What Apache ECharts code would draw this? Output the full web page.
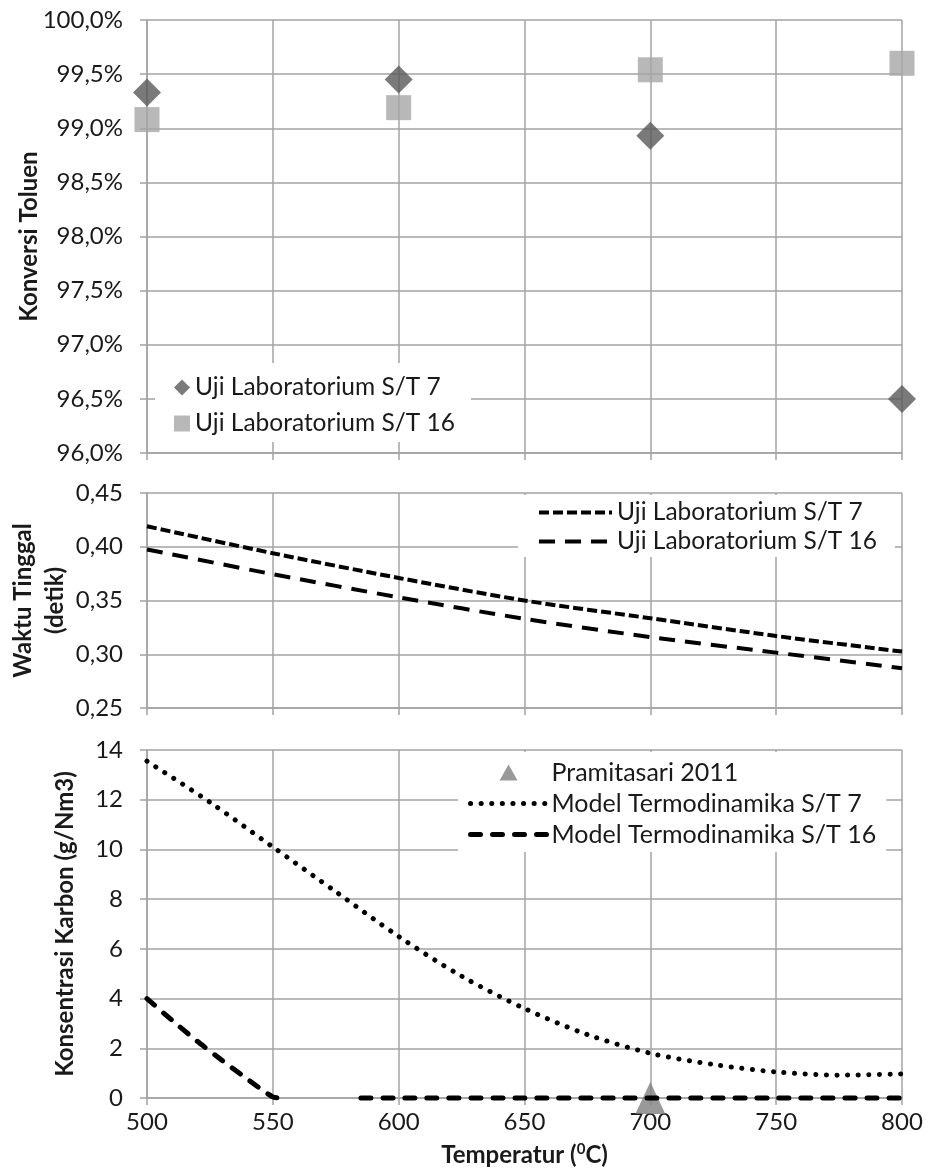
<!DOCTYPE html>
<html>
<head>
<meta charset="utf-8">
<script src="https://cdn.jsdelivr.net/npm/echarts@6/dist/echarts.min.js"></script>
<style>
html,body{margin:0;padding:0;background:#fff;}
#c{width:928px;height:1174px;}
</style>
</head>
<body>
<div id="c"></div>
<script>
// ---- Data ----
const tempLab = [500, 600, 700, 800];
const konversiST7 = [99.33, 99.45, 98.93, 96.50];
const konversiST16 = [99.08, 99.19, 99.54, 99.60];

const tempWaktu = [500, 550, 600, 650, 700, 750, 800];
const waktuST7 = [0.419, 0.394, 0.371, 0.350, 0.3335, 0.317, 0.3025];
const waktuST16 = [0.3975, 0.3745, 0.353, 0.333, 0.316, 0.3015, 0.287];

const tempPramitasari = [700];
const karbonPramitasari = [0];

const tempModelST7 = [500, 525, 550, 575, 600, 625, 650, 675, 700, 725, 750, 775, 800];
const karbonModelST7 = [13.55, 11.9, 10.1, 8.3, 6.5, 4.9, 3.6, 2.55, 1.8, 1.35, 1.05, 0.92, 0.97];

const tempModelST16 = [500, 510, 520, 530, 540, 545, 550, 553, 570, 585, 600, 650, 700, 750, 800];
const karbonModelST16 = [4.0, 3.12, 2.28, 1.5, 0.75, 0.38, 0.04, 0, '-', 0, 0, 0, 0, 0, 0];

const names = {
  lab7: 'Uji Laboratorium S/T 7',
  lab16: 'Uji Laboratorium S/T 16',
  pram: 'Pramitasari 2011',
  mod7: 'Model Termodinamika S/T 7',
  mod16: 'Model Termodinamika S/T 16'
};

// ---- Helpers ----
const pair = (xs, ys) => xs.map((x, i) => [x, ys[i]]);
const FONT = 'Lato, "Open Sans", "Liberation Sans", sans-serif';
const TXT = '#1a1a1a';
const GRIDC = '#a3a3a3';
const comma = (v, d) => v.toFixed(d).replace('.', ',');

// line styles (shared by series and legend icons)
const styLab7 = { color: '#000', width: 4, type: [10, 4] };
const styLab16 = { color: '#000', width: 4, type: [16, 10] };
const styMod7 = { color: '#000', width: 5, type: [0.1, 10.5], cap: 'round' };
const styMod16 = { color: '#000', width: 5, type: [10, 12], cap: 'round' };

function xAxisFor(gi, showLabel) {
  const ax = {
    type: 'value', gridIndex: gi, min: 500, max: 800, interval: 50,
    axisLine: { show: true, onZero: false, lineStyle: { color: GRIDC, width: 1.5 } },
    axisTick: { show: true, inside: false, length: 7, lineStyle: { color: GRIDC, width: 1.5 } },
    splitLine: { show: true, lineStyle: { color: GRIDC, width: 1.5 } },
    axisLabel: { show: showLabel, fontSize: 24, fontFamily: FONT, color: TXT, margin: 12 }
  };
  if (showLabel) {
    ax.name = '{n|Temperatur (}{s|0}{n|C)}';
    ax.nameLocation = 'middle';
    ax.nameGap = 44;
    ax.nameMoveOverlap = false;
    ax.nameTextStyle = {
      rich: {
        n: { fontSize: 24, fontWeight: 'bold', fontFamily: FONT, color: TXT },
        s: { fontSize: 15, fontWeight: 'bold', fontFamily: FONT, color: TXT, padding: [0, 0, 12, 0] }
      }
    };
  }
  return ax;
}
function yAxisFor(gi, min, max, interval, fmt, name, nameGap, lh) {
  return {
    type: 'value', gridIndex: gi, min, max, interval,
    name, nameLocation: 'middle', nameGap, nameMoveOverlap: false,
    nameTextStyle: { fontSize: 24, fontWeight: 'bold', fontFamily: FONT, color: TXT, lineHeight: lh || 30 },
    axisLine: { show: true, lineStyle: { color: GRIDC, width: 1.5 } },
    axisTick: { show: true, inside: false, length: 7, lineStyle: { color: GRIDC, width: 1.5 } },
    splitLine: { show: true, lineStyle: { color: GRIDC, width: 1.5 } },
    axisLabel: { fontSize: 24, fontFamily: FONT, color: TXT, margin: 24, formatter: fmt }
  };
}
const hideSym = { opacity: 0 };

const chart = echarts.init(document.getElementById('c'), null, { renderer: 'canvas' });

const option = {
  backgroundColor: '#fff',
  animation: false,
  grid: [
    { left: 147, width: 755, top: 20, height: 433, outerBoundsMode: 'none', containLabel: false },
    { left: 147, width: 755, top: 493, height: 215, outerBoundsMode: 'none', containLabel: false },
    { left: 147, width: 755, top: 750, height: 348, outerBoundsMode: 'none', containLabel: false }
  ],
  xAxis: [xAxisFor(0, false), xAxisFor(1, false), xAxisFor(2, true)],
  yAxis: [
    yAxisFor(0, 96, 100, 0.5, v => comma(v, 1) + '%', 'Konversi Toluen', 103),
    yAxisFor(1, 0.25, 0.45, 0.05, v => comma(v, 2), 'Waktu Tinggal\n(detik)', 76, 32),
    yAxisFor(2, 0, 14, 2, v => String(Math.round(v)), 'Konsentrasi Karbon (g/Nm3)', 67)
  ],
  legend: [
    {
      data: [names.lab7, names.lab16],
      orient: 'vertical', left: 155, top: 363,
      padding: [12, 16, 6, 19], itemGap: 11, itemWidth: 16, itemHeight: 16,
      backgroundColor: '#fff',
      textStyle: { fontSize: 24.5, fontFamily: FONT, color: TXT }
    },
    {
      data: [
        { name: names.lab7 + ' ', itemStyle: hideSym, lineStyle: styLab7 },
        { name: names.lab16 + ' ', itemStyle: hideSym, lineStyle: styLab16 }
      ],
      orient: 'vertical', left: 518, top: 495,
      padding: [5, 18, 3, 19], itemGap: 4, itemWidth: 73, itemHeight: 16,
      backgroundColor: '#fff',
      textStyle: { fontSize: 24.5, fontFamily: FONT, color: TXT },
      formatter: n => n.trim()
    },
    {
      data: [
        { name: names.pram, icon: 'path://M9,0 L18,16 L0,16 Z' },
        { name: names.mod7, itemStyle: hideSym, lineStyle: styMod7 },
        { name: names.mod16, itemStyle: hideSym, lineStyle: styMod16 }
      ],
      orient: 'vertical', left: 458, top: 752,
      padding: [8, 10, 5, 10], itemGap: 6, itemWidth: 76, itemHeight: 16,
      symbolKeepAspect: true,
      backgroundColor: '#fff',
      textStyle: { fontSize: 25, fontFamily: FONT, color: TXT }
    }
  ],
  series: [
    {
      name: names.lab7, type: 'scatter', xAxisIndex: 0, yAxisIndex: 0,
      symbol: 'diamond', symbolSize: 28, itemStyle: { color: '#595959' },
      data: pair(tempLab, konversiST7), clip: false
    },
    {
      name: names.lab16, type: 'scatter', xAxisIndex: 0, yAxisIndex: 0,
      symbol: 'rect', symbolSize: 25, itemStyle: { color: '#a6a6a6' },
      data: pair(tempLab, konversiST16), clip: false
    },
    {
      name: names.lab7 + ' ', type: 'line', xAxisIndex: 1, yAxisIndex: 1,
      symbol: 'none', smooth: 0.3, itemStyle: { color: '#000' },
      lineStyle: styLab7,
      data: pair(tempWaktu, waktuST7)
    },
    {
      name: names.lab16 + ' ', type: 'line', xAxisIndex: 1, yAxisIndex: 1,
      symbol: 'none', smooth: 0.3, itemStyle: { color: '#000' },
      lineStyle: styLab16,
      data: pair(tempWaktu, waktuST16)
    },
    {
      name: names.pram, type: 'scatter', xAxisIndex: 2, yAxisIndex: 2,
      symbol: 'triangle', symbolSize: [30, 32], itemStyle: { color: '#808080' },
      data: pair(tempPramitasari, karbonPramitasari), clip: false, z: 1
    },
    {
      name: names.mod7, type: 'line', xAxisIndex: 2, yAxisIndex: 2,
      symbol: 'none', smooth: 0.3, itemStyle: { color: '#000' },
      lineStyle: styMod7,
      data: pair(tempModelST7, karbonModelST7), z: 3
    },
    {
      name: names.mod16, type: 'line', xAxisIndex: 2, yAxisIndex: 2,
      symbol: 'none', smooth: 0.2, connectNulls: false, itemStyle: { color: '#000' },
      lineStyle: styMod16,
      data: pair(tempModelST16, karbonModelST16), z: 3, clip: false
    }
  ]
};
chart.setOption(option);
</script>
</body>
</html>
